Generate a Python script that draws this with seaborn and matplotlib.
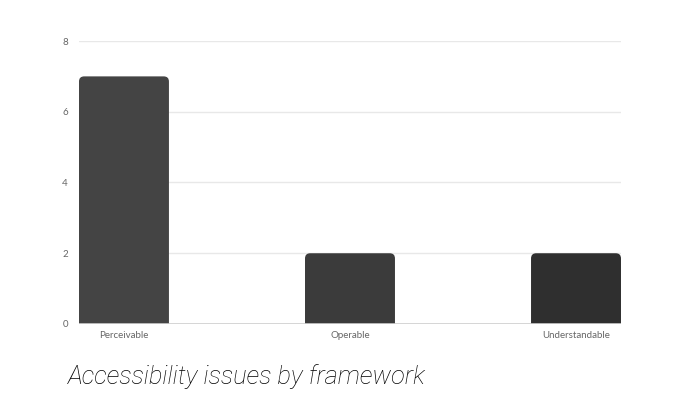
import matplotlib
matplotlib.use("Agg")
import matplotlib.pyplot as plt
from matplotlib.patches import FancyBboxPatch
import seaborn as sns
import pandas as pd

# Dados
categorias = ["Perceivable", "Operable", "Understandable"]
problemas = [7, 2, 2]
cores = ["#444444", "#3b3b3b", "#2f2f2f"]

df = pd.DataFrame({"categoria": categorias, "problemas": problemas})

sns.set_theme(style="white")
plt.rcParams["font.family"] = ["Lato", "DejaVu Sans"]

fig = plt.figure(figsize=(6.88, 4.08), dpi=100)
ax = fig.add_axes([0.1148, 0.2059, 0.7878, 0.6936])

sns.barplot(data=df, x="categoria", y="problemas", hue="categoria",
            palette=cores, width=0.398, legend=False, ax=ax, zorder=3)

# troca as barras por versões com cantos arredondados no topo
raio = 0.023
aspecto = (8 / 283) / (1 / 226)
for barra in list(ax.patches):
    x0, larg, alt = barra.get_x(), barra.get_width(), barra.get_height()
    cor = barra.get_facecolor()
    barra.remove()
    arred = FancyBboxPatch((x0, -0.5), larg, alt + 0.5,
                           boxstyle=f"round,pad=0,rounding_size={raio}",
                           mutation_aspect=aspecto, facecolor=cor,
                           edgecolor="none", zorder=3)
    ax.add_patch(arred)

ax.set_xlim(-0.199, 2.199)
ax.set_ylim(0, 8)
ax.set_yticks([0, 2, 4, 6, 8])
ax.yaxis.grid(True, color="#e8e8e8", linewidth=1, zorder=0)
ax.axhline(0, color="#cfcfcf", linewidth=1.2, zorder=4)
for lado in ["top", "right", "left", "bottom"]:
    ax.spines[lado].set_visible(False)

ax.set_xlabel("")
ax.set_ylabel("")
ax.tick_params(axis="both", length=0, labelsize=7, labelcolor="#666666")
ax.tick_params(axis="y", pad=8)
ax.tick_params(axis="x", pad=5)

fig.text(0.099, 0.058, "Accessibility issues by framework",
         fontsize=18.4, style="italic", fontweight="light", color="#000000",
         family=["Roboto", "DejaVu Sans"])

fig.savefig("out.png", dpi=100)
plt.close(fig)
